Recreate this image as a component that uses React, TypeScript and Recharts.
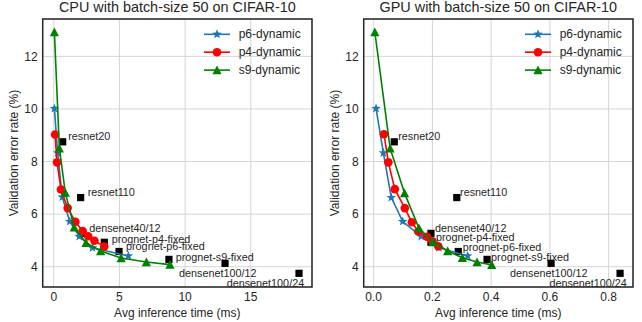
import React from 'react';
import {
  ScatterChart,
  Scatter,
  XAxis,
  YAxis,
  CartesianGrid,
  ReferenceArea,
  Legend,
  Label,
} from 'recharts';

// CPU timings (ms) and validation error (%)
const cpuP6Time = [0.05, 0.3, 0.65, 1.22, 1.94, 2.95, 5.68];
const cpuP6Err = [10.02, 8.33, 6.65, 5.72, 5.15, 4.72, 4.41];
const cpuP4Time = [0.1, 0.25, 0.55, 1.06, 1.65, 2.2, 2.62, 3.1, 3.85];
const cpuP4Err = [9.03, 7.97, 6.94, 6.23, 5.71, 5.36, 5.16, 4.99, 4.77];
const cpuS9Time = [0.05, 0.43, 0.88, 1.56, 2.46, 3.57, 5.13, 7.05, 8.85];
const cpuS9Err = [12.92, 8.5, 6.82, 5.5, 4.91, 4.6, 4.33, 4.18, 4.08];

// GPU timings (ms) and validation error (%)
const gpuP6Time = [0.008, 0.033, 0.06, 0.099, 0.162, 0.222, 0.32];
const gpuP6Err = [10.02, 8.33, 6.63, 5.72, 5.15, 4.72, 4.41];
const gpuP4Time = [0.035, 0.05, 0.072, 0.106, 0.13, 0.152, 0.182, 0.2, 0.22];
const gpuP4Err = [9.04, 7.97, 6.95, 6.23, 5.69, 5.34, 5.14, 4.97, 4.78];
const gpuS9Time = [0.004, 0.056, 0.105, 0.154, 0.202, 0.252, 0.302, 0.352, 0.402];
const gpuS9Err = [12.92, 8.5, 6.8, 5.47, 4.94, 4.6, 4.34, 4.18, 4.07];

// fixed baselines
const baselineNames = [
  'resnet20',
  'resnet110',
  'densenet40/12',
  'prognet-p4-fixed',
  'prognet-p6-fixed',
  'prognet-s9-fixed',
  'densenet100/12',
  'densenet100/24',
];
const baselineErr = [8.75, 6.63, 5.27, 4.93, 4.58, 4.28, 4.13, 3.75];
const baselineCpuTime = [0.68, 2.05, 2.2, 3.85, 4.97, 8.77, 13.04, 18.67];
const baselineGpuTime = [0.07, 0.283, 0.195, 0.195, 0.288, 0.386, 0.604, 0.839];

const yTicks = [4, 6, 8, 10, 12];
const cpuXTicks = [0, 5, 10, 15];
const gpuXTicks = [0, 0.2, 0.4, 0.6, 0.8];

const FONT = '"Liberation Sans", Arial, sans-serif';
const TEXT = '#262626';
const BLUE = '#1f77b4';
const RED = '#ff0000';
const GREEN = '#008000';

// label offsets in px (start of text, vertical centre) from the square
const cpuLabelOffsets: Record<string, [number, number]> = {
  resnet20: [5.6, -5.7],
  resnet110: [7, -6],
  'densenet40/12': [6.5, -5.6],
  'prognet-p4-fixed': [7.4, -3.3],
  'prognet-p6-fixed': [7, -5],
  'prognet-s9-fixed': [6.7, -2],
  'densenet100/12': [-46, 10],
  'densenet100/24': [-72.3, 10],
};
const gpuLabelOffsets: Record<string, [number, number]> = {
  resnet20: [4, -5.7],
  resnet110: [3.3, -6],
  'densenet40/12': [4, -5.6],
  'prognet-p4-fixed': [5, -5],
  'prognet-p6-fixed': [4.4, -4.3],
  'prognet-s9-fixed': [4, -2],
  'densenet100/12': [-41, 10],
  'densenet100/24': [-70.7, 10],
};

const toPoints = (xs: number[], ys: number[]) => xs.map((x, i) => ({ x, y: ys[i] }));

const starPoints = (cx: number, cy: number, r: number) => {
  const pts: string[] = [];
  for (let i = 0; i < 10; i++) {
    const rad = i % 2 === 0 ? r : r * 0.42;
    const a = (Math.PI / 5) * i - Math.PI / 2;
    pts.push(`${cx + rad * Math.cos(a)},${cy + rad * Math.sin(a)}`);
  }
  return pts.join(' ');
};

const Star = ({ cx, cy }: any) => <polygon points={starPoints(cx, cy, 5)} fill={BLUE} />;
const Dot = ({ cx, cy }: any) => <circle cx={cx} cy={cy} r={4.3} fill={RED} />;
const Tri = ({ cx, cy }: any) => (
  <polygon points={`${cx},${cy - 4.6} ${cx - 4.6},${cy + 4.2} ${cx + 4.6},${cy + 4.2}`} fill={GREEN} />
);

const legendItems = [
  { name: 'p6-dynamic', color: BLUE, Marker: Star },
  { name: 'p4-dynamic', color: RED, Marker: Dot },
  { name: 's9-dynamic', color: GREEN, Marker: Tri },
];

const LegendBox = () => (
  <svg width={112} height={58}>
    {legendItems.map((it, i) => {
      const y = 10.3 + i * 17.9;
      return (
        <g key={it.name}>
          <line x1={4} x2={30} y1={y} y2={y} stroke={it.color} strokeWidth={1.6} />
          <it.Marker cx={17} cy={y} />
          <text x={38.7} y={y} dominantBaseline="central" fontSize={12} fill={TEXT} fontFamily={FONT}>
            {it.name}
          </text>
        </g>
      );
    })}
  </svg>
);

interface PanelProps {
  title: string;
  p6: { x: number; y: number }[];
  p4: { x: number; y: number }[];
  s9: { x: number; y: number }[];
  baseTimes: number[];
  xDomain: [number, number];
  xTicks: number[];
  xFmt: (v: number) => string;
  offsets: Record<string, [number, number]>;
}

const yDomain: [number, number] = [3.23, 13.42];

const Panel = ({ title, p6, p4, s9, baseTimes, xDomain, xTicks, xFmt, offsets }: PanelProps) => {
  const baseData = baseTimes.map((x, i) => ({ x, y: baselineErr[i], name: baselineNames[i] }));

  const Square = (props: any) => {
    const { cx, cy, payload } = props;
    const [dx, dy] = offsets[payload.name] || [5, -5];
    return (
      <g>
        <rect x={cx - 3.6} y={cy - 3.6} width={7.2} height={7.2} fill="#000" />
        <text
          x={cx + dx}
          y={cy + dy}
          dominantBaseline="central"
          fontSize={10.8}
          fill={TEXT}
          fontFamily={FONT}
        >
          {payload.name}
        </text>
      </g>
    );
  };

  return (
    <div style={{ position: 'relative', width: 321, height: 322 }}>
      <div
        style={{
          position: 'absolute',
          left: 42.7,
          width: 269.3,
          top: 0,
          textAlign: 'center',
          fontSize: 14.4,
          lineHeight: '15px',
          fontFamily: FONT,
          color: TEXT,
          whiteSpace: 'nowrap',
        }}
      >
        {title}
      </div>
      <ScatterChart width={321} height={322} margin={{ top: 19, right: 9, bottom: 0, left: 0 }}>
        <CartesianGrid stroke="#d4d4d4" strokeWidth={1} />
        <XAxis
          type="number"
          dataKey="x"
          domain={xDomain}
          ticks={xTicks}
          tickFormatter={xFmt}
          allowDataOverflow
          height={35}
          axisLine={false}
          tickLine={false}
          tickSize={0}
          tickMargin={5}
          tick={{ fontSize: 12, fill: TEXT, fontFamily: FONT }}
        >
          <Label
            content={({ viewBox }: any) => (
              <text
                x={viewBox.x + viewBox.width / 2}
                y={313}
                textAnchor="middle"
                dominantBaseline="central"
                fontSize={12}
                fill={TEXT}
                fontFamily={FONT}
              >
                Avg inference time (ms)
              </text>
            )}
          />
        </XAxis>
        <YAxis
          type="number"
          dataKey="y"
          domain={yDomain}
          ticks={yTicks}
          allowDataOverflow
          width={42.7}
          axisLine={false}
          tickLine={false}
          tickSize={0}
          tickMargin={5}
          tick={{ fontSize: 12, fill: TEXT, fontFamily: FONT }}
        >
          <Label
            content={({ viewBox }: any) => {
              const cy = viewBox.y + viewBox.height / 2;
              return (
                <text
                  x={14}
                  y={cy}
                  transform={`rotate(-90, 14, ${cy})`}
                  textAnchor="middle"
                  dominantBaseline="central"
                  fontSize={12}
                  fill={TEXT}
                  fontFamily={FONT}
                >
                  Validation error rate (%)
                </text>
              );
            }}
          />
        </YAxis>
        <Scatter data={baseData} shape={Square} isAnimationActive={false} />
        <Scatter
          data={p6}
          shape={Star}
          line={{ stroke: BLUE, strokeWidth: 1.6 }}
          lineType="joint"
          isAnimationActive={false}
        />
        <Scatter
          data={p4}
          shape={Dot}
          line={{ stroke: RED, strokeWidth: 1.6 }}
          lineType="joint"
          isAnimationActive={false}
        />
        <Scatter
          data={s9}
          shape={Tri}
          line={{ stroke: GREEN, strokeWidth: 1.6 }}
          lineType="joint"
          isAnimationActive={false}
        />
        <ReferenceArea
          x1={xDomain[0]}
          x2={xDomain[1]}
          y1={yDomain[0]}
          y2={yDomain[1]}
          fill="none"
          fillOpacity={0}
          stroke={TEXT}
          strokeWidth={1.5}
          ifOverflow="visible"
        />
        <Legend
          layout="horizontal"
          verticalAlign="middle"
          align="center"
          content={() => <LegendBox />}
          wrapperStyle={{ left: 200, top: 24, width: 112, height: 58 }}
        />
      </ScatterChart>
    </div>
  );
};

export default function App() {
  return (
    <div style={{ position: 'absolute', left: 0, top: 0, width: 642, height: 322, display: 'flex', background: '#fff' }}>
      <Panel
        title="CPU with batch-size 50 on CIFAR-10"
        p6={toPoints(cpuP6Time, cpuP6Err)}
        p4={toPoints(cpuP4Time, cpuP4Err)}
        s9={toPoints(cpuS9Time, cpuS9Err)}
        baseTimes={baselineCpuTime}
        xDomain={[-0.84, 19.66]}
        xTicks={cpuXTicks}
        xFmt={(v) => String(v)}
        offsets={cpuLabelOffsets}
      />
      <Panel
        title="GPU with batch-size 50 on CIFAR-10"
        p6={toPoints(gpuP6Time, gpuP6Err)}
        p4={toPoints(gpuP4Time, gpuP4Err)}
        s9={toPoints(gpuS9Time, gpuS9Err)}
        baseTimes={baselineGpuTime}
        xDomain={[-0.034, 0.883]}
        xTicks={gpuXTicks}
        xFmt={(v) => v.toFixed(1)}
        offsets={gpuLabelOffsets}
      />
    </div>
  );
}
